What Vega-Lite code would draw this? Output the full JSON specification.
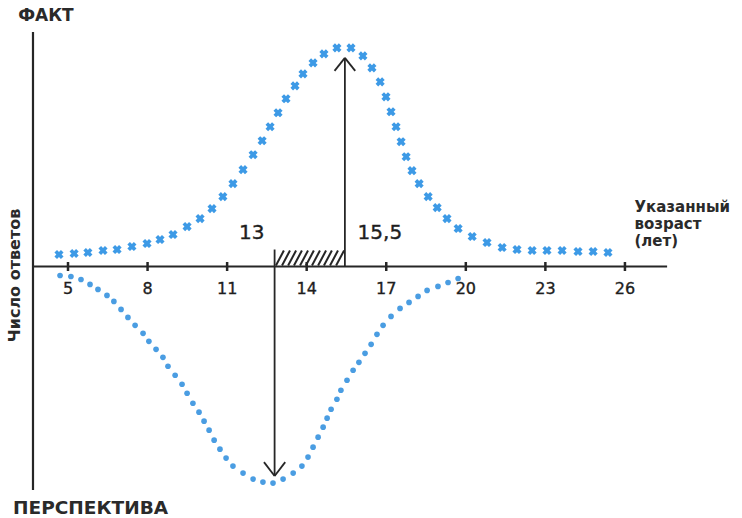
{
  "$schema": "https://vega.github.io/schema/vega-lite/v6.json",
  "width": 742,
  "height": 518,
  "padding": 0,
  "autosize": {"type": "fit", "contains": "padding"},
  "background": "#ffffff",
  "config": {"view": {"stroke": null}, "axis": {"disable": true}},
  "data": {"values": [{"one": 1}]},
  "datasets": {
    "fact": [
      {"age": 4.66, "n": 12}, {"age": 5.23, "n": 13}, {"age": 5.75, "n": 14}, {"age": 6.32, "n": 16},
      {"age": 6.85, "n": 17}, {"age": 7.41, "n": 20}, {"age": 7.98, "n": 23}, {"age": 8.47, "n": 27},
      {"age": 8.96, "n": 32}, {"age": 9.49, "n": 40}, {"age": 9.98, "n": 48}, {"age": 10.43, "n": 58},
      {"age": 10.84, "n": 70}, {"age": 11.22, "n": 83}, {"age": 11.6, "n": 97}, {"age": 11.98, "n": 112},
      {"age": 12.32, "n": 126}, {"age": 12.62, "n": 140}, {"age": 12.92, "n": 154}, {"age": 13.22, "n": 168},
      {"age": 13.56, "n": 181}, {"age": 13.86, "n": 193}, {"age": 14.24, "n": 204}, {"age": 14.65, "n": 213},
      {"age": 15.14, "n": 219}, {"age": 15.67, "n": 219}, {"age": 16.12, "n": 211}, {"age": 16.46, "n": 199},
      {"age": 16.77, "n": 185}, {"age": 16.99, "n": 170}, {"age": 17.18, "n": 155}, {"age": 17.37, "n": 140},
      {"age": 17.56, "n": 125}, {"age": 17.75, "n": 110}, {"age": 17.97, "n": 96}, {"age": 18.24, "n": 83},
      {"age": 18.58, "n": 70}, {"age": 18.92, "n": 59}, {"age": 19.29, "n": 48}, {"age": 19.71, "n": 38},
      {"age": 20.24, "n": 30}, {"age": 20.8, "n": 24}, {"age": 21.37, "n": 19}, {"age": 21.93, "n": 17},
      {"age": 22.5, "n": 16}, {"age": 23.06, "n": 16}, {"age": 23.63, "n": 16}, {"age": 24.23, "n": 15},
      {"age": 24.8, "n": 15}, {"age": 25.36, "n": 14}
    ],
    "persp": [
      {"age": 4.7, "n": -9}, {"age": 5.11, "n": -10}, {"age": 5.49, "n": -13}, {"age": 5.83, "n": -18},
      {"age": 6.13, "n": -23}, {"age": 6.47, "n": -29}, {"age": 6.73, "n": -35}, {"age": 7.0, "n": -43},
      {"age": 7.26, "n": -51}, {"age": 7.53, "n": -59}, {"age": 7.83, "n": -67}, {"age": 8.05, "n": -75},
      {"age": 8.32, "n": -83}, {"age": 8.58, "n": -91}, {"age": 8.77, "n": -100}, {"age": 9.04, "n": -109},
      {"age": 9.3, "n": -118}, {"age": 9.49, "n": -127}, {"age": 9.71, "n": -137}, {"age": 9.94, "n": -146},
      {"age": 10.13, "n": -155}, {"age": 10.32, "n": -164}, {"age": 10.51, "n": -174}, {"age": 10.73, "n": -183},
      {"age": 10.96, "n": -192}, {"age": 11.22, "n": -200}, {"age": 11.6, "n": -207}, {"age": 11.98, "n": -213},
      {"age": 12.35, "n": -216}, {"age": 12.73, "n": -217}, {"age": 13.11, "n": -213}, {"age": 13.49, "n": -207},
      {"age": 13.82, "n": -200}, {"age": 14.05, "n": -191}, {"age": 14.24, "n": -181}, {"age": 14.43, "n": -171},
      {"age": 14.62, "n": -161}, {"age": 14.77, "n": -152}, {"age": 14.92, "n": -143}, {"age": 15.14, "n": -133},
      {"age": 15.29, "n": -124}, {"age": 15.52, "n": -114}, {"age": 15.75, "n": -104}, {"age": 15.97, "n": -96},
      {"age": 16.2, "n": -87}, {"age": 16.43, "n": -78}, {"age": 16.65, "n": -68}, {"age": 16.88, "n": -59},
      {"age": 17.18, "n": -50}, {"age": 17.52, "n": -42}, {"age": 17.86, "n": -36}, {"age": 18.2, "n": -30},
      {"age": 18.54, "n": -24}, {"age": 18.95, "n": -20}, {"age": 19.33, "n": -16}, {"age": 19.71, "n": -12}
    ],
    "ticks": [
      {"age": 5}, {"age": 8}, {"age": 11}, {"age": 14}, {"age": 17}, {"age": 20}, {"age": 23}, {"age": 26}
    ],
    "hatch": [
      {"a1": 12.84, "a2": 13.14}, {"a1": 13.07, "a2": 13.37}, {"a1": 13.3, "a2": 13.6}, {"a1": 13.52, "a2": 13.82},
      {"a1": 13.75, "a2": 14.05}, {"a1": 13.97, "a2": 14.27}, {"a1": 14.2, "a2": 14.5}, {"a1": 14.43, "a2": 14.73},
      {"a1": 14.65, "a2": 14.95}, {"a1": 14.88, "a2": 15.18}, {"a1": 15.11, "a2": 15.41}
    ],
    "arrows": [
      {"a1": 15.44, "a2": 15.44, "v1": 0, "v2": 209},
      {"a1": 15.44, "a2": 15.05, "v1": 209, "v2": 196},
      {"a1": 15.44, "a2": 15.83, "v1": 209, "v2": 196},
      {"a1": 12.79, "a2": 12.79, "v1": 17, "v2": -210},
      {"a1": 12.79, "a2": 12.39, "v1": -210, "v2": -196},
      {"a1": 12.79, "a2": 13.19, "v1": -210, "v2": -196}
    ]
  },
  "layer": [
    {
      "data": {"values": [{"a": 3.68, "top": 235, "bottom": -224}]},
      "mark": {"type": "rule", "color": "#262626", "strokeWidth": 2.2},
      "encoding": {
        "x": {"field": "a", "type": "quantitative", "scale": {"domain": [2.436, 30.414], "nice": false, "zero": false}, "axis": null},
        "y": {"field": "top", "type": "quantitative", "scale": {"domain": [-251, 267], "nice": false, "zero": false}, "axis": null},
        "y2": {"field": "bottom"}
      }
    },
    {
      "data": {"values": [{"a1": 3.68, "a2": 27.59, "v": 0}]},
      "mark": {"type": "rule", "color": "#262626", "strokeWidth": 2.2},
      "encoding": {
        "x": {"field": "a1", "type": "quantitative", "axis": null},
        "x2": {"field": "a2"},
        "y": {"field": "v", "type": "quantitative", "axis": null}
      }
    },
    {
      "data": {"name": "ticks"},
      "mark": {"type": "rule", "color": "#262626", "strokeWidth": 2.5},
      "encoding": {
        "x": {"field": "age", "type": "quantitative", "axis": null},
        "y": {"datum": 4.5, "type": "quantitative", "axis": null},
        "y2": {"datum": -4.5}
      }
    },
    {
      "data": {"name": "ticks"},
      "mark": {"type": "text", "font": "DejaVu Sans", "fontSize": 16, "color": "#1e1e1e", "baseline": "middle", "align": "center", "stroke": "#1e1e1e", "strokeWidth": 0.35},
      "encoding": {
        "x": {"field": "age", "type": "quantitative", "axis": null},
        "y": {"datum": -23, "type": "quantitative", "axis": null},
        "text": {"field": "age", "type": "quantitative"}
      }
    },
    {
      "data": {"name": "hatch"},
      "mark": {"type": "rule", "color": "#262626", "strokeWidth": 2},
      "encoding": {
        "x": {"field": "a1", "type": "quantitative", "axis": null},
        "x2": {"field": "a2"},
        "y": {"datum": 1, "type": "quantitative", "axis": null},
        "y2": {"datum": 16}
      }
    },
    {
      "data": {"name": "arrows"},
      "mark": {"type": "rule", "color": "#262626", "strokeWidth": 1.8},
      "encoding": {
        "x": {"field": "a1", "type": "quantitative", "axis": null},
        "x2": {"field": "a2"},
        "y": {"field": "v1", "type": "quantitative", "axis": null},
        "y2": {"field": "v2"}
      }
    },
    {
      "data": {"name": "fact"},
      "mark": {"type": "point", "shape": "cross", "angle": 45, "filled": true, "size": 85, "color": "#3d9ae6", "opacity": 1},
      "encoding": {
        "x": {"field": "age", "type": "quantitative", "axis": null},
        "y": {"field": "n", "type": "quantitative", "axis": null}
      }
    },
    {
      "data": {"name": "persp"},
      "mark": {"type": "circle", "size": 32, "color": "#4a9de2", "opacity": 1},
      "encoding": {
        "x": {"field": "age", "type": "quantitative", "axis": null},
        "y": {"field": "n", "type": "quantitative", "axis": null}
      }
    },
    {
      "mark": {"type": "text", "text": "ФАКТ", "font": "DejaVu Sans", "fontWeight": "bold", "fontSize": 17, "color": "#2a2a2a", "align": "left", "baseline": "middle"},
      "encoding": {"x": {"datum": 3.12, "type": "quantitative", "axis": null}, "y": {"datum": 251, "type": "quantitative", "axis": null}}
    },
    {
      "mark": {"type": "text", "text": "ПЕРСПЕКТИВА", "font": "DejaVu Sans", "fontWeight": "bold", "fontSize": 18.5, "color": "#2a2a2a", "align": "left", "baseline": "middle"},
      "encoding": {"x": {"datum": 2.93, "type": "quantitative", "axis": null}, "y": {"datum": -242, "type": "quantitative", "axis": null}}
    },
    {
      "mark": {"type": "text", "text": "Число ответов", "font": "DejaVu Sans", "fontWeight": "bold", "fontSize": 16, "color": "#2a2a2a", "align": "center", "baseline": "middle", "angle": 270},
      "encoding": {"x": {"datum": 3.0, "type": "quantitative", "axis": null}, "y": {"datum": -9, "type": "quantitative", "axis": null}}
    },
    {
      "mark": {"type": "text", "text": ["Указанный", "возраст", "(лет)"], "font": "DejaVu Sans", "fontWeight": "bold", "fontSize": 15, "lineHeight": 17, "color": "#2a2a2a", "align": "left", "baseline": "middle"},
      "encoding": {"x": {"datum": 26.36, "type": "quantitative", "axis": null}, "y": {"datum": 60, "type": "quantitative", "axis": null}}
    },
    {
      "mark": {"type": "text", "text": "13", "font": "DejaVu Sans", "fontSize": 20, "color": "#1e1e1e", "align": "center", "baseline": "middle", "stroke": "#1e1e1e", "strokeWidth": 0.4},
      "encoding": {"x": {"datum": 11.93, "type": "quantitative", "axis": null}, "y": {"datum": 34, "type": "quantitative", "axis": null}}
    },
    {
      "mark": {"type": "text", "text": "15,5", "font": "DejaVu Sans", "fontSize": 20, "color": "#1e1e1e", "align": "center", "baseline": "middle", "stroke": "#1e1e1e", "strokeWidth": 0.4},
      "encoding": {"x": {"datum": 16.76, "type": "quantitative", "axis": null}, "y": {"datum": 34, "type": "quantitative", "axis": null}}
    }
  ]
}
